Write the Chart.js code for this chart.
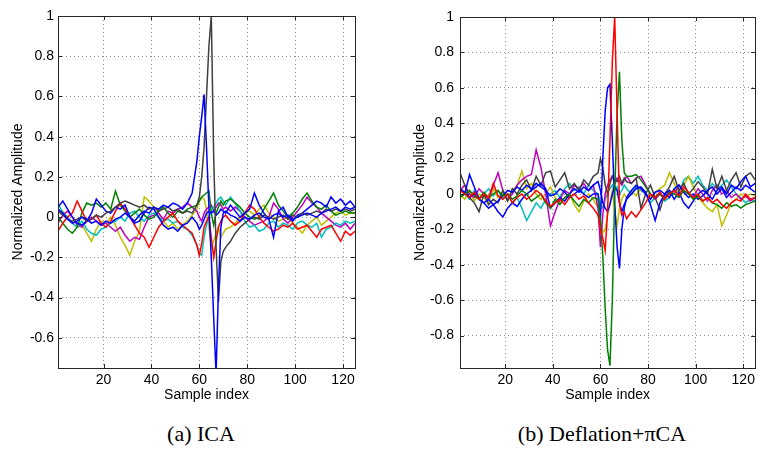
<!DOCTYPE html>
<html>
<head>
<meta charset="utf-8">
<script src="https://cdn.jsdelivr.net/npm/chart.js@4"></script>
<style>
  body { margin: 0; background: #fff; width: 759px; height: 452px; position: relative; overflow: hidden; }
  canvas { position: absolute; top: 0; }
  #icaChart { left: 0; }
  #pcaChart { left: 380px; }
  .cap { position: absolute; top: 421px; font-family: "Liberation Serif", "DejaVu Serif", serif; font-size: 22px; color: #000; transform: translateX(-50%); white-space: nowrap; }
</style>
</head>
<body>
<canvas id="icaChart" width="370" height="410"></canvas>
<canvas id="pcaChart" width="379" height="410"></canvas>
<div class="cap" style="left:201px">(a) ICA</div>
<div class="cap" style="left:602px">(b) Deflation+πCA</div>
<script>
// sample positions (denser around the spike)
const sampleIdx = [1,3,5,7,9,11,13,15,17,19,21,23,25,27,29,31,33,35,37,39,41,43,45,47,49,51,53,55,57,
  59,60,61,62,63,64,65,66,67,68,69,70,71,
  73,75,77,79,81,83,85,87,89,91,93,95,97,99,101,103,105,107,109,111,113,115,117,119,121,123,125];

const xTicks = [20, 40, 60, 80, 100, 120];
const icaYTicks = [1, 0.8, 0.6, 0.4, 0.2, 0, -0.2, -0.4, -0.6];
const pcaYTicks = [1, 0.8, 0.6, 0.4, 0.2, 0, -0.2, -0.4, -0.6, -0.8];

// (a) ICA
const icaGray = [0.03,0.01,-0.01,-0.02,-0.01,0.0,-0.02,-0.01,0.01,0.0,0.02,0.03,0.05,0.07,0.08,0.07,0.06,0.05,0.06,0.04,0.05,0.03,0.04,0.05,0.03,0.04,0.02,0.03,0.02,
  0.06,0.1,0.2,0.35,0.6,0.85,1.0,0.3,-0.15,-0.42,-0.22,-0.17,-0.15,
  -0.12,-0.08,-0.05,-0.03,-0.01,0.0,-0.01,0.01,0.0,-0.01,0.0,0.01,-0.01,0.01,0.0,0.02,0.01,0.02,0.03,0.02,0.04,0.03,0.04,0.03,0.04,0.03,0.04];
const icaBlueSpike = [0.04,0.02,-0.01,-0.03,-0.02,0.0,-0.01,-0.03,-0.02,-0.04,-0.02,-0.03,-0.01,0.0,0.02,0.0,-0.02,0.01,0.03,0.02,0.05,0.04,0.06,0.05,0.07,0.06,0.04,0.07,0.12,
  0.28,0.4,0.5,0.61,0.35,0.05,-0.2,-0.5,-0.78,-0.35,-0.05,0.02,0.03,
  0.01,0.0,-0.02,0.0,-0.01,0.01,0.02,0.0,-0.01,0.01,0.02,0.0,0.01,-0.01,0.0,0.01,0.02,0.01,0.0,0.02,0.03,0.04,0.05,0.03,0.05,0.04,0.05];
const icaBlue = [0.05,0.08,0.04,0.0,-0.03,-0.04,-0.02,0.02,0.09,0.06,0.03,0.02,0.05,0.04,0.06,0.0,-0.03,-0.02,0.02,0.05,0.04,0.0,-0.04,-0.06,-0.05,-0.07,-0.04,-0.03,0.0,
  -0.03,-0.06,-0.04,-0.01,0.02,0.03,0.02,0.03,0.01,0.02,0.04,0.03,0.02,
  0.06,0.03,0.0,0.02,0.04,0.12,0.06,0.02,-0.01,-0.1,0.03,0.05,0.0,-0.02,0.01,0.02,0.04,0.06,0.08,0.07,0.05,0.1,0.07,0.09,0.06,0.08,0.05];
const icaGreen = [0.0,-0.03,-0.06,-0.08,-0.05,0.02,0.07,0.06,0.07,0.05,0.07,0.04,0.13,0.06,0.03,0.0,0.02,0.04,0.01,-0.01,0.0,0.03,0.05,0.02,0.0,0.03,0.02,0.04,0.05,
  0.06,0.08,0.1,0.11,0.12,0.13,0.02,-0.04,0.02,0.05,0.08,0.06,0.08,
  0.09,0.07,0.05,0.02,0.0,-0.01,0.0,0.04,0.08,0.12,0.06,0.03,0.0,0.02,0.05,0.09,0.12,0.08,0.05,0.04,0.06,0.03,0.01,0.02,0.03,0.02,0.02];
const icaRed = [-0.07,-0.03,0.0,0.02,0.08,0.03,-0.02,-0.01,0.01,-0.03,-0.05,-0.02,0.03,0.07,0.04,0.0,-0.04,-0.08,-0.1,-0.15,-0.1,-0.05,-0.02,0.0,0.02,-0.02,-0.04,-0.06,-0.08,
  -0.14,-0.19,-0.13,-0.05,-0.02,0.0,-0.1,-0.2,-0.12,-0.05,-0.02,0.0,0.01,
  -0.02,-0.04,-0.02,0.02,0.06,0.04,0.0,-0.03,-0.05,-0.07,-0.06,-0.04,-0.05,-0.03,-0.06,-0.05,-0.04,-0.07,-0.1,-0.06,-0.05,-0.04,-0.08,-0.12,-0.07,-0.09,-0.07];
const icaCyan = [0.07,0.02,0.0,-0.03,-0.05,-0.02,-0.06,-0.08,-0.09,-0.06,-0.05,-0.03,-0.02,0.0,-0.02,0.02,0.03,0.0,-0.02,0.01,0.02,0.0,-0.02,-0.01,-0.03,-0.02,-0.05,-0.06,-0.09,
  -0.14,-0.18,-0.19,-0.1,-0.04,0.0,0.03,0.05,0.07,0.09,0.1,0.08,0.06,
  0.1,0.07,0.03,-0.02,-0.05,-0.04,-0.07,-0.06,-0.03,-0.02,-0.05,-0.03,-0.04,-0.06,-0.03,-0.02,-0.04,-0.05,-0.03,-0.1,-0.06,-0.05,-0.03,-0.04,-0.02,-0.03,-0.02];
const icaMagenta = [-0.03,0.01,0.03,0.0,-0.04,-0.05,-0.02,0.0,-0.02,-0.04,-0.03,-0.05,-0.07,-0.05,-0.09,-0.12,-0.1,-0.11,-0.05,0.0,0.01,0.02,-0.01,0.03,0.02,0.04,0.05,0.07,0.05,
  0.03,0.0,-0.02,0.02,0.04,0.05,0.06,0.03,0.05,0.07,0.06,0.04,0.05,
  0.03,0.05,0.03,0.0,-0.02,-0.04,-0.03,-0.02,0.0,0.07,0.04,-0.01,-0.03,0.0,0.03,0.06,0.1,0.07,0.05,0.02,0.0,-0.02,-0.04,-0.05,-0.03,-0.06,-0.03];
const icaYellow = [0.02,0.03,0.0,-0.03,-0.05,-0.04,-0.08,-0.12,-0.06,-0.02,-0.03,0.0,-0.04,-0.1,-0.14,-0.19,-0.12,-0.07,0.1,0.08,0.05,0.02,-0.02,-0.05,-0.03,-0.06,-0.04,-0.02,0.01,
  0.04,0.08,0.1,0.09,0.04,-0.05,-0.15,-0.12,-0.08,-0.05,-0.1,-0.08,-0.06,
  -0.05,-0.03,0.0,0.02,0.03,0.01,0.04,0.06,0.02,0.0,-0.02,-0.01,0.0,-0.03,-0.05,-0.08,-0.04,-0.02,0.0,-0.04,-0.02,0.0,0.02,0.03,0.01,0.02,0.02];

// (b) Deflation+piCA
const pcaRed = [0.02,0.0,-0.02,0.01,-0.03,0.0,-0.02,0.06,-0.01,-0.03,0.0,-0.05,-0.02,0.0,-0.03,-0.01,0.02,0.0,-0.04,-0.07,-0.05,-0.03,-0.06,-0.02,0.0,-0.03,-0.01,-0.05,-0.08,
  -0.12,-0.2,-0.25,-0.32,-0.1,0.3,0.75,1.0,0.45,-0.05,-0.12,-0.1,-0.14,
  -0.1,-0.13,-0.09,-0.05,0.0,-0.02,0.01,-0.03,0.0,0.02,-0.01,0.04,0.01,-0.02,0.0,-0.04,-0.02,-0.05,-0.03,-0.06,-0.08,-0.05,-0.03,-0.04,0.0,-0.03,-0.02];
const pcaGreen = [-0.02,0.0,0.02,-0.01,-0.03,0.01,-0.02,0.0,0.02,-0.01,0.0,-0.03,-0.01,0.02,0.0,-0.04,-0.02,0.0,-0.05,-0.08,-0.03,-0.06,-0.02,0.0,-0.04,-0.07,-0.03,-0.05,-0.02,
  -0.03,-0.15,-0.35,-0.65,-0.88,-0.97,-0.6,0.0,0.45,0.69,0.3,0.12,0.1,
  0.1,0.11,0.08,0.04,0.0,-0.02,0.0,-0.03,0.01,0.0,-0.02,0.02,0.0,-0.03,-0.01,-0.04,-0.02,-0.05,-0.06,-0.08,-0.05,-0.07,-0.06,-0.08,-0.06,-0.05,-0.04];
const pcaBlueSpike = [0.03,0.01,-0.02,0.0,-0.03,-0.05,-0.03,-0.06,-0.04,-0.01,0.02,0.01,0.04,0.02,0.05,0.03,0.06,0.04,0.02,-0.01,0.0,0.03,0.01,-0.02,0.0,0.02,0.0,-0.02,0.0,
  0.0,-0.15,0.2,0.47,0.6,0.62,0.3,-0.05,-0.3,-0.42,-0.2,-0.08,-0.02,
  0.02,0.05,0.03,0.0,-0.03,0.01,0.02,0.0,-0.02,0.03,0.05,0.01,-0.02,0.0,-0.03,-0.01,0.02,0.04,0.0,0.03,-0.02,0.01,0.04,0.02,0.05,0.03,0.01];
const pcaBlue = [0.03,0.0,0.11,0.04,-0.03,-0.05,-0.08,-0.06,-0.1,-0.13,-0.08,-0.05,-0.07,-0.03,0.0,0.02,0.04,0.06,0.03,-0.08,-0.05,-0.02,-0.04,0.0,0.03,0.01,0.04,0.02,0.05,
  0.07,0.02,-0.05,-0.08,-0.1,-0.06,0.0,0.04,0.02,-0.05,-0.1,-0.06,-0.03,
  0.0,0.03,0.04,0.01,-0.06,-0.15,-0.05,0.0,0.02,-0.03,0.01,-0.05,-0.08,-0.04,0.0,0.02,0.0,-0.03,0.02,0.04,0.0,0.05,0.03,0.07,0.1,0.04,0.06];
const pcaGray = [0.12,0.05,-0.02,-0.05,-0.1,0.0,-0.06,-0.03,-0.05,0.02,-0.04,0.03,0.0,0.05,0.08,0.02,0.1,0.05,0.12,0.13,0.04,0.08,0.12,0.03,0.06,0.02,0.08,0.05,0.1,
  0.12,0.2,0.15,0.05,0.0,0.06,0.1,0.08,0.07,0.1,0.06,0.09,0.07,
  0.06,0.09,-0.08,0.0,0.05,-0.02,-0.09,0.0,0.04,0.1,0.02,0.06,0.0,0.03,0.07,0.04,0.0,0.14,0.03,0.1,0.02,0.08,0.12,0.04,0.1,0.12,0.08];
const pcaMagenta = [0.02,0.05,0.0,-0.02,0.03,0.0,-0.03,0.05,0.12,0.02,-0.03,0.0,0.05,0.08,0.1,0.11,0.25,0.15,0.0,-0.18,-0.1,-0.03,0.02,0.0,0.05,0.03,0.06,0.02,0.05,
  -0.08,-0.3,-0.12,0.0,0.05,0.08,0.1,0.06,0.09,0.07,0.05,0.08,0.1,
  0.06,0.09,0.1,0.05,0.0,-0.03,0.0,-0.02,0.02,0.0,0.05,0.02,0.0,-0.02,0.03,0.0,-0.04,0.02,0.05,0.0,0.02,-0.02,0.0,-0.03,-0.01,-0.04,-0.02];
const pcaYellow = [0.0,-0.03,0.02,-0.04,0.0,-0.02,-0.05,0.03,-0.02,0.0,-0.04,0.02,0.05,0.13,0.03,0.06,0.0,-0.03,0.0,0.04,-0.02,-0.05,-0.02,0.0,-0.06,-0.1,-0.04,0.0,-0.03,
  -0.08,-0.15,-0.22,-0.2,-0.12,-0.05,0.02,-0.1,-0.18,-0.08,-0.03,0.0,-0.02,
  0.02,-0.01,0.03,0.0,-0.02,0.01,0.03,0.05,0.12,0.06,0.0,0.05,0.1,0.04,-0.02,-0.05,-0.08,-0.1,-0.06,-0.18,-0.12,-0.05,-0.03,0.0,-0.02,0.0,-0.01];
const pcaCyan = [0.03,0.0,-0.03,0.02,-0.02,0.0,0.03,-0.01,0.02,-0.03,0.0,-0.05,-0.02,-0.08,-0.15,-0.1,-0.05,-0.08,-0.03,0.0,0.02,-0.02,0.03,0.06,0.02,0.04,0.0,0.05,0.02,
  0.0,-0.06,-0.08,-0.03,0.0,0.03,0.05,0.02,0.04,0.0,0.02,0.05,0.03,
  0.0,0.04,0.02,0.0,-0.05,-0.02,0.01,-0.04,-0.02,0.03,0.0,0.08,0.1,0.06,0.1,0.05,0.02,0.06,0.03,0.05,0.08,0.04,0.0,-0.02,-0.05,-0.03,-0.04];

const BLUE = '#0000ff', GREEN = '#008000', RED = '#ff0000', CYAN = '#00bfbf',
      MAGENTA = '#bf00bf', YELLOW = '#bfbf00', GRAY = '#404040';

Chart.defaults.font.family = '"Liberation Sans", Arial, sans-serif';
Chart.defaults.font.size = 14;
Chart.defaults.color = '#000';

// matlab style box with inward tick marks
const boxPlugin = {
  id: 'box',
  afterDraw(chart) {
    const a = chart.chartArea, ctx = chart.ctx;
    const xs = chart.scales.x, ys = chart.scales.y;
    ctx.save();
    ctx.strokeStyle = '#262626';
    ctx.lineWidth = 1;
    ctx.strokeRect(Math.round(a.left) + 0.5, Math.round(a.top) + 0.5,
      Math.round(a.right - a.left), Math.round(a.bottom - a.top));
    ctx.beginPath();
    xs.ticks.forEach(t => {
      const p = Math.round(xs.getPixelForValue(t.value)) + 0.5;
      ctx.moveTo(p, a.bottom); ctx.lineTo(p, a.bottom - 4);
      ctx.moveTo(p, a.top); ctx.lineTo(p, a.top + 4);
    });
    ys.ticks.forEach(t => {
      const p = Math.round(ys.getPixelForValue(t.value)) + 0.5;
      ctx.moveTo(a.left, p); ctx.lineTo(a.left + 4, p);
      ctx.moveTo(a.right, p); ctx.lineTo(a.right - 4, p);
    });
    ctx.stroke();
    ctx.restore();
  }
};

function line(values, color) {
  return {
    data: values.map((v, i) => ({ x: sampleIdx[i], y: v })),
    borderColor: color,
    borderWidth: 1.5,
    pointRadius: 0,
    tension: 0,
    fill: false
  };
}

function makeChart(id, datasets, yMin, yTicks, cfg) {
  return new Chart(document.getElementById(id), {
    type: 'line',
    data: { datasets: datasets },
    options: {
      responsive: false,
      animation: false,
      devicePixelRatio: 1,
      layout: { padding: { top: cfg.top, right: cfg.right, left: 0, bottom: 0 } },
      plugins: { legend: { display: false }, tooltip: { enabled: false } },
      scales: {
        x: {
          type: 'linear', min: 1, max: 125,
          afterBuildTicks: s => { s.ticks = xTicks.map(v => ({ value: v })); },
          afterFit: s => { s.height = 410 - cfg.bottom; },
          grid: { color: '#8c8c8c', drawTicks: false },
          border: { display: false, dash: [1, 3] },
          ticks: { padding: 4, maxRotation: 0 },
          title: { display: true, text: 'Sample index', padding: 6, font: { size: 14 } }
        },
        y: {
          type: 'linear', min: yMin, max: 1,
          afterBuildTicks: s => { s.ticks = yTicks.map(v => ({ value: v })); },
          afterFit: s => { s.width = cfg.yw; },
          grid: { color: '#8c8c8c', drawTicks: false },
          border: { display: false, dash: [1, 3] },
          ticks: { padding: cfg.tp, callback: v => String(v) },
          title: { display: true, text: 'Normalized Amplitude', padding: cfg.titlePad, font: { size: 14 } }
        }
      }
    },
    plugins: [boxPlugin]
  });
}

makeChart('icaChart', [
  line(icaBlueSpike, BLUE), line(icaGray, GRAY), line(icaBlue, BLUE), line(icaRed, RED),
  line(icaGreen, GREEN), line(icaCyan, CYAN), line(icaMagenta, MAGENTA), line(icaYellow, YELLOW)
], -0.75, icaYTicks, { top: 16, right: 15, bottom: 368, yw: 58, tp: 4, titlePad: 10 });

makeChart('pcaChart', [
  line(pcaRed, RED), line(pcaGreen, GREEN), line(pcaBlueSpike, BLUE), line(pcaBlue, BLUE),
  line(pcaGray, GRAY), line(pcaMagenta, MAGENTA), line(pcaYellow, YELLOW), line(pcaCyan, CYAN)
], -0.983, pcaYTicks, { top: 17, right: 2, bottom: 368, yw: 80, tp: 6, titlePad: 32 });
</script>
</body>
</html>
